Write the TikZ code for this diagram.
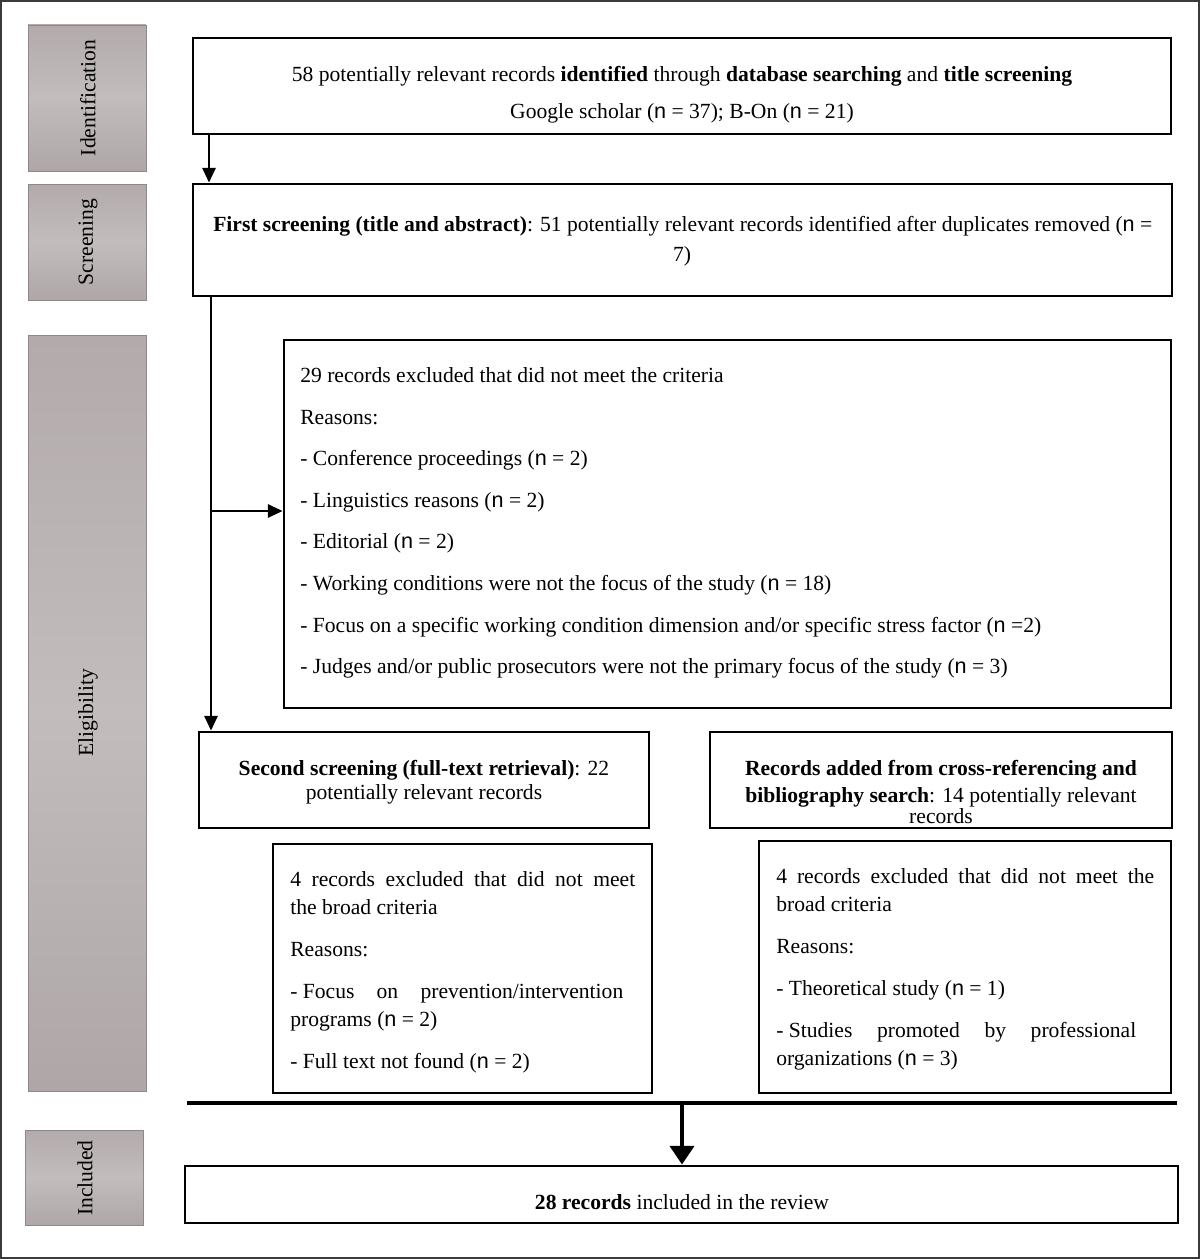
\documentclass[tikz,border=0pt]{standalone}
\usepackage{fontspec}
\setmainfont{Liberation Serif}
\newfontfamily\nsans{Liberation Sans}
\usetikzlibrary{arrows.meta,fit}
\newcommand\nN{{\nsans n}}
\newcommand\fs{\fontsize{16.2pt}{19pt}\selectfont}
\definecolor{sidetop}{HTML}{B3ABAB}
\definecolor{sidemid}{HTML}{C2BCBC}
\definecolor{sidebot}{HTML}{AFA7A7}
\definecolor{sideline}{HTML}{8E8888}
\definecolor{framegray}{HTML}{3A3A3A}
\begin{document}
\begin{tikzpicture}[x=0.75pt,y=-0.75pt,
  box/.style={draw=black, line width=2.2pt, inner sep=0pt},
  side/.style={draw=sideline, line width=0.6pt, inner sep=0pt, top color=sidetop, bottom color=sidebot, middle color=sidemid},
  lbl/.style={font=\fs, rotate=90, inner sep=0pt},
  tl/.style={font=\fs, inner sep=0pt, anchor=base west},
  tc/.style={font=\fs, inner sep=0pt, anchor=base},
  arr/.style={line width=1.4pt, -{Triangle[length=11pt,width=10pt]}},
  bigarr/.style={line width=3pt, -{Triangle[length=14pt,width=18pt]}},
]
\useasboundingbox (0,0) rectangle (1200,1259);
\node[draw=framegray, line width=1.5pt, inner sep=0pt, fit={(1,1)(1199,1258)}] (frame) {};

% side bars
\node[side, fit={(28,25)(146,171)}] (s1) {};
\node[side, fit={(28,184)(146,300)}] (s2) {};
\node[side, fit={(28,335)(146,1091)}] (s3) {};
\node[side, fit={(25,1130)(143,1225)}] (s4) {};
\node[lbl] (l1) at (88,98) {Identification};
\node[lbl] (l2) at (88,242) {Screening};
\node[lbl] (l3) at (88,713) {Eligibility};
\node[lbl] (l4) at (85,1178) {Included};

% boxes
\node[box, fit={(193,38)(1171,134)}] (b1) {};
\node[box, fit={(193,184)(1172,296)}] (b2) {};
\node[box, fit={(284,340)(1171,708)}] (b3) {};
\node[box, fit={(199,732)(649,828)}] (b4) {};
\node[box, fit={(710,732)(1172,828)}] (b5) {};
\node[box, fit={(273,844)(652,1093)}] (b6) {};
\node[box, fit={(759,841)(1171,1093)}] (b7) {};
\node[box, fit={(185,1166)(1178,1223)}] (b8) {};

% box 1 text
\node[tc] (t1a) at (682,82) {58 potentially relevant records \textbf{identified} through \textbf{database searching} and \textbf{title screening}};
\node[tc] (t1b) at (682,119) {Google scholar (\nN{} = 37); B-On (\nN{} = 21)};

% box 2 text
\node[tl] (t2a) at (213,231) {\makebox[939\dimexpr0.75pt\relax][s]{\textbf{First screening (title and abstract)}: 51 potentially relevant records identified after duplicates removed (\nN{} =}};
\node[tc] (t2b) at (682,261) {7)};

% box 3 text
\node[tl] (t3a) at (300,382) {29 records excluded that did not meet the criteria};
\node[tl] (t3b) at (300,424) {Reasons:};
\node[tl] (t3c) at (300,465) {- Conference proceedings (\nN{} = 2)};
\node[tl] (t3d) at (300,507) {- Linguistics reasons (\nN{} = 2)};
\node[tl] (t3e) at (300,548) {- Editorial (\nN{} = 2)};
\node[tl] (t3f) at (300,590) {- Working conditions were not the focus of the study (\nN{} = 18)};
\node[tl] (t3g) at (300,632) {- Focus on a specific working condition dimension and/or specific stress factor (\nN{} =2)};
\node[tl] (t3h) at (300,673) {- Judges and/or public prosecutors were not the primary focus of the study (\nN{} = 3)};

% box 4 text
\node[tc] (t4a) at (424,775) {\textbf{Second screening (full-text retrieval)}: 22};
\node[tc] (t4b) at (424,799) {potentially relevant records};

% box 5 text
\node[tc] (t5a) at (941,775) {\textbf{Records added from cross-referencing and}};
\node[tc] (t5b) at (941,802) {\textbf{bibliography search}: 14 potentially relevant};
\node[tc] (t5c) at (941,823) {records};

% box 6 text
\node[tl] (t6a) at (290,886) {\makebox[345\dimexpr0.75pt\relax][s]{4 records excluded that did not meet}};
\node[tl] (t6b) at (290,914) {the broad criteria};
\node[tl] (t6c) at (290,956) {Reasons:};
\node[tl] (t6d) at (290,998) {\makebox[333\dimexpr0.75pt\relax][s]{\mbox{- Focus} on prevention/intervention}};
\node[tl] (t6e) at (290,1026) {programs (\nN{} = 2)};
\node[tl] (t6f) at (290,1068) {- Full text not found (\nN{} = 2)};

% box 7 text
\node[tl] (t7a) at (776,883) {\makebox[378\dimexpr0.75pt\relax][s]{4 records excluded that did not meet the}};
\node[tl] (t7b) at (776,911) {broad criteria};
\node[tl] (t7c) at (776,953) {Reasons:};
\node[tl] (t7d) at (776,995) {- Theoretical study (\nN{} = 1)};
\node[tl] (t7e) at (776,1037) {\makebox[360\dimexpr0.75pt\relax][s]{\mbox{- Studies} promoted by professional}};
\node[tl] (t7f) at (776,1065) {organizations (\nN{} = 3)};

% box 8 text
\node[tc] (t8) at (682,1209) {\textbf{28 records} included in the review};

% connectors
\coordinate (c1) at (209,0);
\draw[arr] (b1.south -| c1) -- (b2.north -| c1);
\coordinate (c2) at (211,0);
\draw[arr] (b2.south -| c2) -- (b4.north -| c2);
\coordinate (br) at (211,511);
\draw[arr] (br) -- (b3.west |- br);

\coordinate (barL) at (187,1103);
\coordinate (barR) at (1177,1103);
\draw[line width=3pt] (barL) -- (barR);
\coordinate (barM) at (682,1103);
\draw[bigarr] (barM) -- (b8.north -| barM);
\end{tikzpicture}
\end{document}
